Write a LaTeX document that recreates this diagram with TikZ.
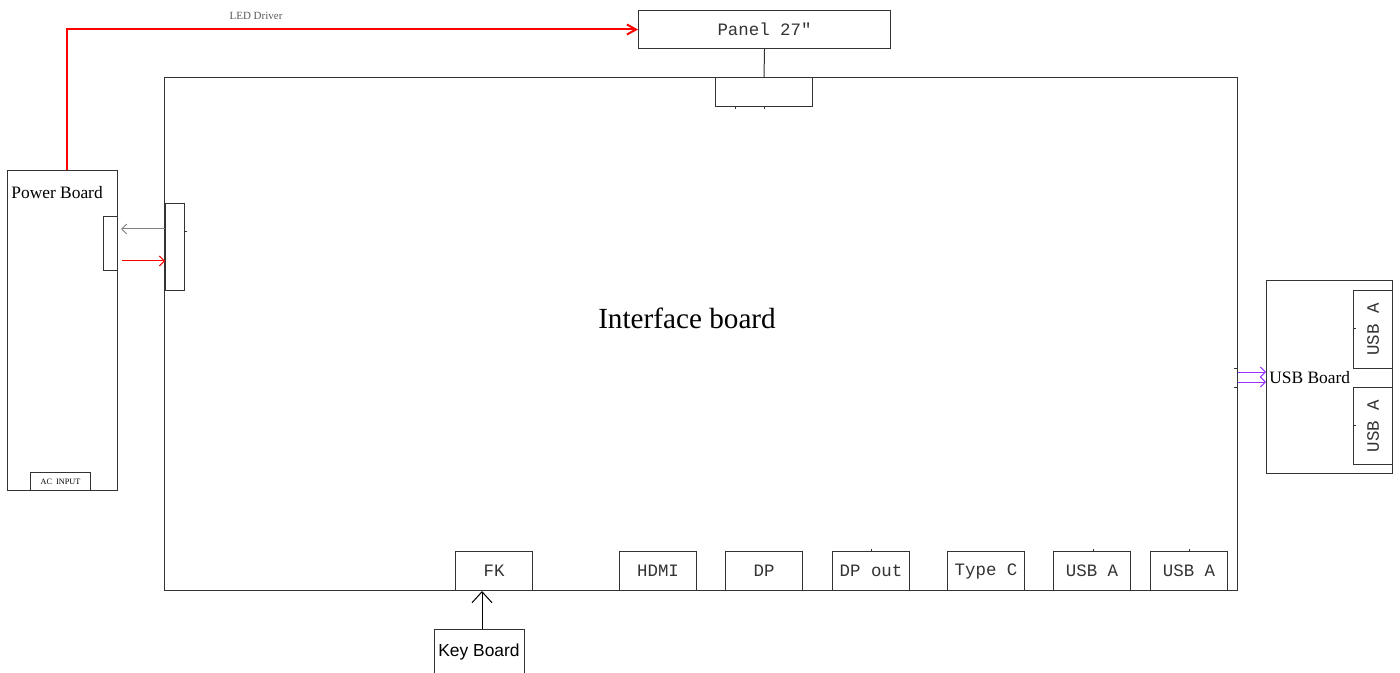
\documentclass[tikz,border=0pt]{standalone}
\usepackage{fontspec}
\setmainfont{Liberation Serif}
\setmonofont{Liberation Mono}
\setsansfont{Liberation Sans}
\usetikzlibrary{arrows.meta}
\definecolor{usbpurple}{RGB}{153,51,255}
\begin{document}
\begin{tikzpicture}[x=0.5pt,y=-0.5pt,
  box/.style={draw=black!80, line width=0.5pt, inner sep=0pt, anchor=north west},
  mono/.style={font=\fontsize{8.7}{10}\selectfont\ttfamily, text=black!80},
  serif/.style={font=\fontsize{8.7}{10}\selectfont\rmfamily},
  barb/.style={-{Straight Barb[length=2.5pt,width=5pt]}},
  tick/.style={line width=0.5pt, black!80},
]
\useasboundingbox[fill=white] (0,0) rectangle (1400,673);

% boxes
\node[box, mono, minimum width=126pt, minimum height=19pt] (panel) at (638,10) {Panel 27"};
\node[box, minimum width=536.5pt, minimum height=256.5pt] (ifb) at (164,77) {};
\node[box, minimum width=48.5pt, minimum height=14.5pt] (ifbtop) at (715,77) {};
\node[box, minimum width=55pt, minimum height=160pt] (power) at (7,170) {};
\node[box, minimum width=7pt, minimum height=27pt] (pconn) at (103,216) {};
\node[box, minimum width=9.5pt, minimum height=43.5pt] (iconn) at (165,203) {};
\node[box, font=\fontsize{4.1}{5}\selectfont\rmfamily, minimum width=30pt, minimum height=9pt] (acin) at (30,472) {AC\ \ INPUT};
\node[box, minimum width=63pt, minimum height=96.5pt] (usbboard) at (1266,280) {};
\node[box, mono, minimum width=19.5pt, minimum height=39pt] (usba1) at (1353,290) {};
\node[mono, rotate=90] at (usba1.center) {USB A};
\node[box, mono, minimum width=19.5pt, minimum height=38.5pt] (usba2) at (1353,387) {};
\node[mono, rotate=90] at (usba2.center) {USB A};

% bottom connectors
\foreach \nm/\x/\t in {fk/455/FK, hdmi/619/HDMI, dp/725/DP, dpout/832/DP out, typec/947/Type C, usbb1/1053/USB A, usbb2/1150/USB A}{
  \node[box, mono, minimum width=38.5pt, minimum height=19.5pt] (\nm) at (\x,551) {\t};
}

\node[box, anchor=north, font=\fontsize{8.7}{10}\selectfont\sffamily, minimum width=45pt, text height=13.5pt, text depth=12pt] (keyboard) at (479,629) {Key Board};

% labels
\node[font=\fontsize{14.6}{17}\selectfont\rmfamily] (ifblabel) at (687,318) {Interface board};
\node[serif, anchor=west, inner sep=0pt] (powerlabel) at (11,193) {Power Board};
\node[serif, anchor=west, inner sep=0pt] (usblabel) at (1269,378) {USB Board};
\node[font=\fontsize{5.5}{6}\selectfont\rmfamily, text=black!65] (ledlabel) at (256,16) {LED Driver};

% connectors
\coordinate (ledstart) at (67,170);
\draw[red, line width=1pt, -{Straight Barb[length=4.5pt,width=5pt]}] (ledstart) |- (panel.west);
\draw[black!80, line width=0.5pt] (panel.south) -- (ifbtop.north);
\draw[gray, line width=0.5pt, barb] (iconn.west |- 0,229) -- ([xshift=1.5pt]pconn.east |- 0,229);
\draw[red, line width=0.5pt, barb] ([xshift=2pt]pconn.east |- 0,261) -- (iconn.west |- 0,261);
\draw[usbpurple, line width=0.5pt, barb] (ifb.east |- 0,372) -- (usbboard.west |- 0,372);
\draw[usbpurple, line width=0.5pt, barb] (ifb.east |- 0,382) -- (usbboard.west |- 0,382);
\draw[black, line width=0.5pt, -{Straight Barb[length=5.5pt,width=10pt]}] ([xshift=1.5pt]keyboard.north) -- ([xshift=1.5pt]keyboard.north |- fk.south);

% small pin ticks
\draw[tick] (735,106) -- (735,109);
\draw[tick] (764,106) -- (764,109);
\draw[tick] (184,232) -- (187,232);
\draw[tick] (1234,368) -- (1238,368);
\draw[tick] (1234,387) -- (1238,387);
\draw[tick] (1353,328) -- (1356,328);
\draw[tick] (1353,425) -- (1356,425);
\draw[tick] (871,549) -- (871,551);
\draw[tick] (1093,549) -- (1093,551);
\draw[tick] (1189,549) -- (1189,551);
\end{tikzpicture}
\end{document}
